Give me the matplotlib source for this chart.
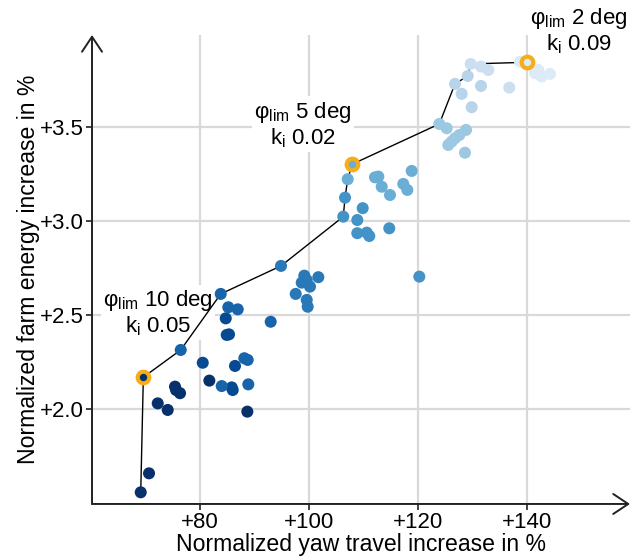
import matplotlib
matplotlib.use("Agg")
from matplotlib import pyplot as plt

plt.rcParams['font.family'] = ['Liberation Sans', 'DejaVu Sans']
plt.rcParams['mathtext.fontset'] = 'custom'
plt.rcParams['mathtext.rm'] = 'Liberation Sans'
plt.rcParams['mathtext.it'] = 'Liberation Sans'

# points of the sweep, grouped by colour level (dark = large phi_lim)
x_10 = [69.12, 70.64, 69.60, 75.41, 75.60, 76.33, 72.24, 74.07, 81.71, 88.68]
y_10 = [1.557, 1.658, 2.169, 2.119, 2.101, 2.084, 2.030, 1.995, 2.151, 1.986]
x_9 = [86.00, 85.82, 80.50, 86.42, 84.72, 84.90, 85.32]
y_9 = [2.101, 2.115, 2.246, 2.229, 2.482, 2.394, 2.397]
x_8 = [83.98, 88.86, 88.13, 88.75, 76.46, 83.80, 85.19, 86.92, 92.97]
y_8 = [2.122, 2.131, 2.270, 2.261, 2.314, 2.612, 2.541, 2.530, 2.464]
x_7 = [94.86, 99.14, 98.66, 99.58, 100.18, 101.71, 97.56, 99.58, 99.76]
y_7 = [2.761, 2.709, 2.672, 2.686, 2.651, 2.701, 2.612, 2.580, 2.544]
x_6 = [106.29, 106.61, 109.85, 108.86, 108.86, 110.59, 111.06, 114.73, 120.24]
y_6 = [3.023, 3.124, 3.068, 3.005, 2.935, 2.938, 2.920, 2.961, 2.704]
x_5 = [107.10, 107.94, 112.11, 112.72, 113.34, 114.86, 117.30, 118.04, 118.84]
y_5 = [3.222, 3.302, 3.232, 3.236, 3.182, 3.138, 3.197, 3.165, 3.266]
x_4 = [123.91, 125.27, 128.81, 127.58, 126.79, 126.18, 125.56, 128.62]
y_4 = [3.516, 3.493, 3.484, 3.457, 3.440, 3.422, 3.404, 3.363]
x_3 = [126.79, 128.02, 131.56, 129.85, 129.12]
y_3 = [3.729, 3.676, 3.718, 3.605, 3.771]
x_2 = [129.67, 131.56, 132.90, 136.75]
y_2 = [3.835, 3.821, 3.803, 3.709]
x_1 = [140.06, 138.72, 141.47, 142.70, 144.22, 142.08]
y_1 = [3.844, 3.847, 3.786, 3.768, 3.782, 3.803]

groups = [(x_10, y_10), (x_9, y_9), (x_8, y_8), (x_7, y_7), (x_6, y_6),
          (x_5, y_5), (x_4, y_4), (x_3, y_3), (x_2, y_2), (x_1, y_1)]
levels = [1.0, 0.9, 0.8, 0.72, 0.62, 0.5, 0.38, 0.3, 0.22, 0.13]

# pareto front
front_x = [69.12, 69.60, 76.46, 83.80, 94.86, 106.29, 106.61, 107.10, 107.94,
           123.91, 126.79, 129.12, 129.67, 140.06]
front_y = [1.557, 2.169, 2.314, 2.612, 2.761, 3.023, 3.124, 3.222, 3.302,
           3.516, 3.729, 3.771, 3.835, 3.844]

# highlighted settings
hl_x = [69.60, 107.94, 140.06]
hl_y = [2.169, 3.302, 3.844]
hl_level = [1.0, 0.5, 0.13]
hl_text = ['$\\mathregular{\u03c6_{lim}}$ 10 deg\n$\\mathregular{k_i}$ 0.05',
           '$\\mathregular{\u03c6_{lim}}$ 5 deg\n$\\mathregular{k_i}$ 0.02',
           '$\\mathregular{\u03c6_{lim}}$ 2 deg\n$\\mathregular{k_i}$ 0.09']
text_pos = [(72.3, 2.51), (98.9, 3.51), (149.5, 4.01)]

xticks = [80, 100, 120, 140]
xlabels = ['+80', '+100', '+120', '+140']
yticks = [2.0, 2.5, 3.0, 3.5]
ylabels = ['+2.0', '+2.5', '+3.0', '+3.5']

fig = plt.figure(figsize=(6.35, 5.57), dpi=100)
ax = fig.add_axes([0.1449, 0.0952, 0.8472, 0.842])

for (gx, gy), lev in zip(groups, levels):
    ax.scatter(gx, gy, s=75, color=plt.cm.Blues(lev), edgecolors='none', zorder=3)

ax.plot(front_x, front_y, color='black', lw=1.0, zorder=2)

for hx, hy, lev in zip(hl_x, hl_y, hl_level):
    ax.scatter([hx], [hy], s=70, facecolor=plt.cm.Blues(lev), edgecolors='#f7ad19',
               linewidths=3.0, zorder=4)

for t, (tx, ty) in zip(hl_text, text_pos):
    ax.text(tx, ty, t, fontsize=16, ha='center', va='center', linespacing=1.1,
            zorder=1.5, bbox=dict(facecolor='white', edgecolor='none', pad=1.5))

ax.set_xlim(60.18, 158.9)
ax.set_ylim(1.495, 3.989)
ax.set_xticks(xticks)
ax.set_xticklabels(xlabels)
ax.set_yticks(yticks)
ax.set_yticklabels(ylabels)
ax.tick_params(labelsize=16, length=4, width=1.2, color='#222222', pad=2)
ax.grid(color='#d9d9d9', lw=1.6, zorder=0)
ax.set_axisbelow(True)

for s in ax.spines.values():
    s.set_visible(False)

arrow = dict(arrowstyle='->,head_length=0.9,head_width=0.6', lw=1.4,
             color='#222222', shrinkA=0, shrinkB=0, mutation_scale=12)
ax.annotate('', xy=(1, 0), xytext=(0, 0), xycoords='axes fraction', arrowprops=arrow)
ax.annotate('', xy=(0, 1), xytext=(0, 0), xycoords='axes fraction', arrowprops=arrow)

ax.set_xlabel('Normalized yaw travel increase in %', fontsize=16.6, labelpad=0)
ax.set_ylabel('Normalized farm energy increase in %', fontsize=16.6, labelpad=0)

fig.savefig('out.png', dpi=100)
